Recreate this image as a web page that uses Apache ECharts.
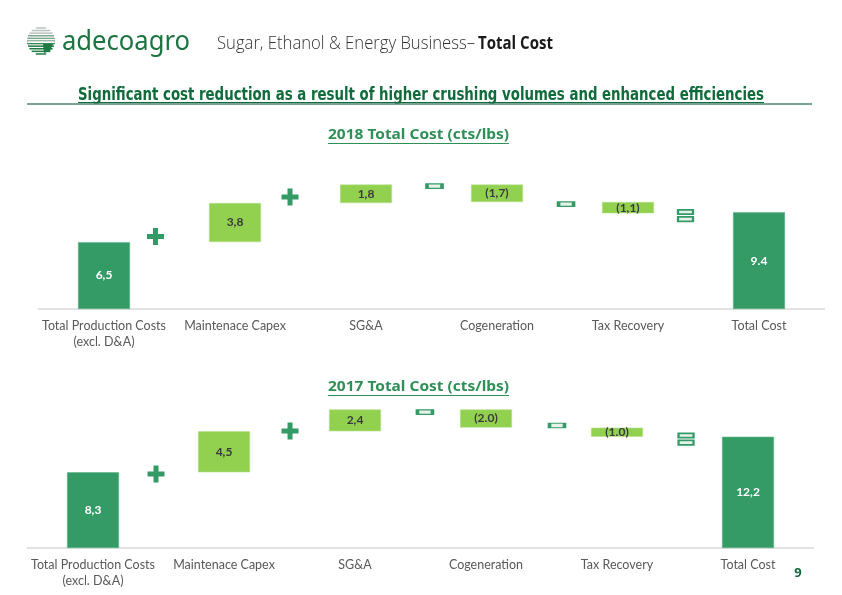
<!DOCTYPE html>
<html>
<head>
<meta charset="utf-8">
<script src="https://cdn.jsdelivr.net/npm/echarts@6/dist/echarts.min.js"></script>
<style>
html,body{margin:0;padding:0;background:#fff;}
#main{width:842px;height:595px;}
</style>
</head>
<body>
<div id="main"></div>
<script>
// ---------- data ----------
const categories = ['Total Production Costs\n(excl. D&A)', 'Maintenace Capex', 'SG&A', 'Cogeneration', 'Tax Recovery', 'Total Cost'];
const isTotal = [true, false, false, false, false, true];
const values2018 = [6.5, 3.8, 1.8, -1.7, -1.1, 9.4];
const labels2018 = ['6,5', '3,8', '1,8', '(1,7)', '(1,1)', '9.4'];
const values2017 = [8.3, 4.5, 2.4, -2.0, -1.0, 12.2];
const labels2017 = ['8,3', '4,5', '2,4', '(2.0)', '(1.0)', '12,2'];
// operator glyphs: type, x (category units), y (value units)
const opTypes = ['+', '+', '-', '-', '='];
const opX2018 = [0.893, 1.92, 3.023, 4.027, 4.939];
const opY2018 = [7.05, 10.88, 11.95, 10.2, 9.09];
const opX2017 = [0.981, 2.004, 3.034, 4.042, 5.027];
const opY2017 = [8.12, 12.83, 14.9, 13.43, 11.95];

// ---------- styles ----------
const DARK = '#349a66';
const LIGHT = '#92d050';
const TITLE_GREEN = '#2e8f57';
const HEAD_GREEN = '#106b3b';

function waterfall(vals) {
  let run = 0; const base = [], size = [];
  vals.forEach((v, i) => {
    if (isTotal[i]) { base.push(0); size.push(v); run = v; }
    else if (v >= 0) { base.push(run); size.push(v); run += v; }
    else { run += v; base.push(run); size.push(-v); }
  });
  return { base, size };
}

const PLUS = 'path://M6,0 H11 V6 H17 V11 H11 V17 H6 V11 H0 V6 H6 Z';
const EQ = 'path://M0,0 H15 V5 H0 Z M0,8 H15 V13 H0 Z';

function opData(xs, ys) {
  return opTypes.map((t, i) => {
    if (t === '+') return { value: [xs[i], ys[i]], symbol: PLUS, symbolSize: [17, 17], itemStyle: { color: DARK, borderWidth: 0, opacity: 1 } };
    if (t === '-') return { value: [xs[i], ys[i]], symbol: 'rect', symbolSize: [15, 4.5], itemStyle: { color: '#e4f2ea', borderColor: DARK, borderWidth: 2, opacity: 1 } };
    return { value: [xs[i], ys[i]], symbol: EQ, symbolSize: [15, 11.5], itemStyle: { color: '#e4f2ea', borderColor: DARK, borderWidth: 2, opacity: 1 } };
  });
}

function barSeries(vals, labels, xi, yi) {
  const w = waterfall(vals);
  return [
    { type: 'bar', xAxisIndex: xi, yAxisIndex: yi, stack: 's' + xi, barWidth: 52, silent: true,
      itemStyle: { color: 'transparent' }, data: w.base },
    { type: 'bar', xAxisIndex: xi, yAxisIndex: yi, stack: 's' + xi, barWidth: 52,
      data: w.size.map((v, i) => ({
        value: v,
        itemStyle: { color: isTotal[i] ? DARK : LIGHT, borderColor: isTotal[i] ? '#5fb388' : '#b6e08a', borderWidth: 0.6 },
        label: { show: true, position: 'inside', formatter: labels[i], color: isTotal[i] ? '#ffffff' : '#3a3a3a',
          fontFamily: 'Lato', fontWeight: 'bold', fontSize: 12 }
      }))
    }
  ];
}

const catAxis = (gi) => ({
  type: 'category', gridIndex: gi, data: categories,
  axisLine: { lineStyle: { color: '#d9d9d9', width: 1.5 } },
  axisTick: { show: false },
  axisLabel: { color: '#595959', fontFamily: 'Lato', fontSize: 12.5, lineHeight: 16, margin: 9, interval: 0 }
});
const valXAxis = (gi) => ({ type: 'value', gridIndex: gi, min: 0, max: 6, show: false });

// ---------- text helpers ----------
const mctx = document.createElement('canvas').getContext('2d');
function fitText(text, font, left, cy, targetW, fill) {
  mctx.font = font;
  const w = mctx.measureText(text).width;
  return { type: 'text', x: left, y: cy, scaleX: targetW / w,
    style: { text, font, fill, textAlign: 'left', align: 'left', textVerticalAlign: 'middle', verticalAlign: 'middle' } };
}
function centeredUnderlined(text, font, cx, cy, fill, ulY, ulW) {
  mctx.font = font;
  const w = mctx.measureText(text).width;
  const sx = ulW ? ulW / w : 1;
  const tw = w * sx;
  return [
    { type: 'text', x: cx - tw / 2, y: cy, scaleX: sx,
      style: { text, font, fill, textAlign: 'left', align: 'left', textVerticalAlign: 'middle', verticalAlign: 'middle' } },
    { type: 'line', shape: { x1: cx - tw / 2, y1: ulY, x2: cx + tw / 2, y2: ulY }, style: { stroke: fill, lineWidth: 1.2 } }
  ];
}

// logo
function logo() {
  const els = [];
  const cx = 41, cy = 41, r = 14;
  for (let dy = -13; dy <= 13; dy += 2.6) {
    const half = Math.sqrt(Math.max(0, r * r - dy * dy));
    const top = dy < 1;
    els.push({ type: 'rect', shape: { x: cx - half, y: cy + dy - 0.8, width: half * 2, height: 1.5 },
      style: { fill: top ? (dy < -6 ? '#b9c4bd' : '#7fa88f') : '#1f7a44' } });
  }
  els.push({ type: 'rect', shape: { x: cx - 13, y: cy + 0.5, width: 26, height: 1.6 }, style: { fill: '#ffffff' } });
  els.push({ type: 'polygon', shape: { points: [[cx + 2, cy + 3], [cx + 12, cy + 3], [cx + 9, cy + 10], [cx + 3, cy + 12]] }, style: { fill: '#1f7a44' } });
  return els;
}

const graphics = [].concat(
  logo(),
  [fitText('adecoagro', '28px "Noto Sans"', 62, 42, 128, '#1c7440')],
  [fitText('Sugar, Ethanol & Energy Business–', '300 18px "Open Sans"', 217, 44, 258, '#333333')],
  [fitText('Total Cost', 'bold 18px "Open Sans"', 478, 44, 75, '#1a1a1a')],
  centeredUnderlined('Significant cost reduction as a result of higher crushing volumes and enhanced efficiencies',
    'bold 18px "Liberation Sans Narrow", "DejaVu Sans Condensed", sans-serif', 421, 95, HEAD_GREEN, 102.5, 686),
  [{ type: 'line', shape: { x1: 27, y1: 104, x2: 812, y2: 104 }, style: { stroke: '#4a8670', lineWidth: 1.6 } }],
  centeredUnderlined('2018 Total Cost (cts/lbs)', 'bold 14px "Noto Sans"', 418.5, 135, TITLE_GREEN, 143.5, 181),
  centeredUnderlined('2017 Total Cost (cts/lbs)', 'bold 14px "Noto Sans"', 418.5, 387, TITLE_GREEN, 395.5, 181),
  [{ type: 'text', x: 798, y: 573, style: { text: '9', font: 'bold 13px "Noto Sans"', fill: HEAD_GREEN, textAlign: 'center', align: 'center', textVerticalAlign: 'middle', verticalAlign: 'middle' } }]
);

const chart = echarts.init(document.getElementById('main'), null, { renderer: 'canvas' });
chart.setOption({
  animation: false,
  backgroundColor: '#ffffff',
  grid: [
    { left: 38.5, width: 786, top: 165, height: 144 },
    { left: 27.5, width: 786, top: 393, height: 155 }
  ],
  xAxis: [catAxis(0), valXAxis(0), catAxis(1), valXAxis(1)],
  yAxis: [
    { type: 'value', gridIndex: 0, min: 0, max: 14, show: false },
    { type: 'value', gridIndex: 1, min: 0, max: 17, show: false }
  ],
  series: [].concat(
    barSeries(values2018, labels2018, 0, 0),
    [{ type: 'scatter', xAxisIndex: 1, yAxisIndex: 0, silent: true, data: opData(opX2018, opY2018), z: 5 }],
    barSeries(values2017, labels2017, 2, 1),
    [{ type: 'scatter', xAxisIndex: 3, yAxisIndex: 1, silent: true, data: opData(opX2017, opY2017), z: 5 }]
  ),
  graphic: graphics
});
</script>
</body>
</html>
